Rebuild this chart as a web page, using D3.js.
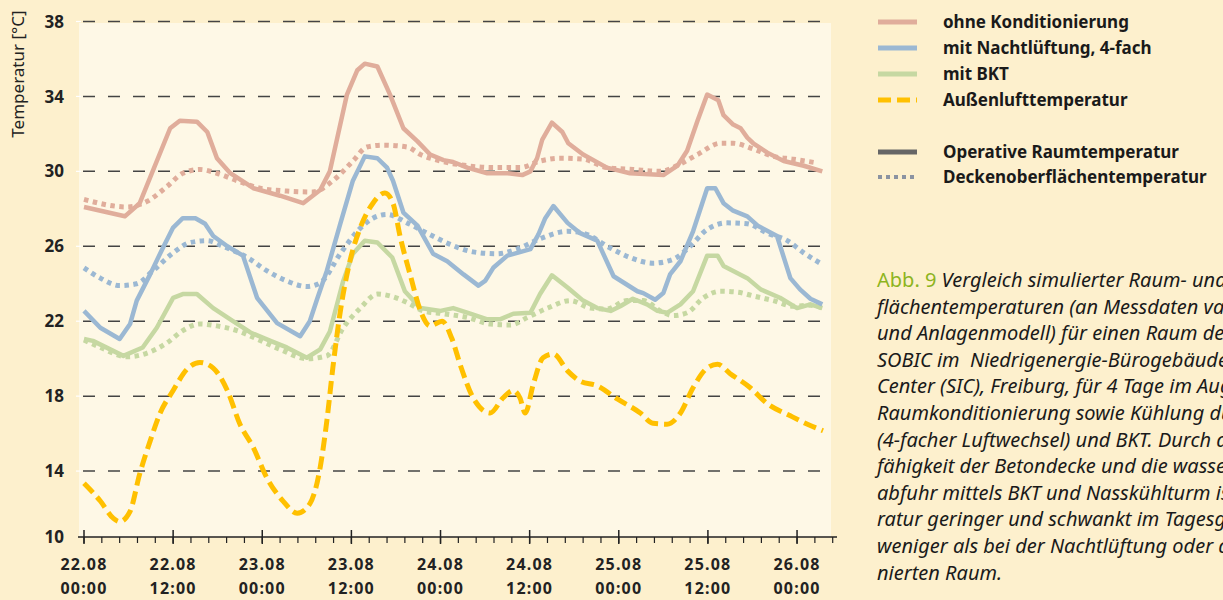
<!DOCTYPE html>
<html>
<head>
<meta charset="utf-8">
<script src="https://cdn.jsdelivr.net/npm/d3@7"></script>
<style>
  html, body { margin: 0; padding: 0; background: #fdf0cd; overflow: hidden; }
  svg { display: block; font-family: "Noto Sans", sans-serif; }
</style>
</head>
<body>
<script>
// hours since 22.08 00:00, temperature in °C
const ohneOp = [[0,28.1],[5.5,27.6],[7.5,28.3],[11.6,32.3],[12.9,32.7],[15.2,32.65],[16.6,32.1],[17.9,30.7],[19.7,29.9],[22.8,29.1],[26.4,28.7],[29.5,28.3],[31.8,29.0],[33.1,30.0],[35.4,34.1],[36.8,35.4],[37.8,35.75],[39.5,35.6],[41.2,34.1],[43.0,32.3],[44.9,31.6],[46.6,30.9],[48.4,30.6],[49.7,30.5],[51.6,30.2],[54.3,29.9],[57.0,29.9],[59.0,29.8],[60.1,30.0],[61.0,30.7],[61.7,31.7],[63.0,32.6],[64.4,32.1],[65.2,31.5],[67.2,30.9],[70.4,30.2],[73.5,29.9],[78.0,29.8],[79.9,30.3],[81.2,31.1],[82.6,32.7],[83.9,34.1],[85.4,33.8],[86.1,33.0],[87.4,32.5],[88.4,32.3],[89.3,31.8],[90.1,31.5],[92.0,31.0],[94.2,30.55],[96.9,30.3],[99.4,30.0]];
const ohneDecke = [[0,28.5],[5.8,28.1],[8.5,28.4],[11.2,29.2],[13.3,29.9],[15.6,30.1],[17.9,29.9],[20.6,29.5],[23.7,29.1],[27.3,28.95],[30.8,28.9],[33.5,29.5],[36.2,30.55],[38.1,31.3],[40.3,31.4],[43.5,31.3],[45.3,30.9],[48.0,30.55],[51.6,30.3],[55.1,30.2],[58.7,30.2],[61.4,30.55],[64.1,30.7],[67.2,30.65],[70.4,30.2],[73.9,30.1],[77.6,30.0],[80.3,30.4],[82.6,30.9],[85.7,31.5],[87.4,31.5],[90.1,31.2],[92.8,30.8],[95.5,30.65],[98.7,30.45]];
const nachtOp = [[0,22.55],[2.2,21.65],[4.8,21.05],[6.2,21.85],[7.1,23.1],[8.9,24.5],[10.6,25.9],[12.0,27.0],[13.3,27.5],[15.0,27.5],[16.3,27.2],[17.4,26.55],[19.3,26.0],[21.4,25.5],[23.3,23.25],[26.0,21.9],[29.1,21.2],[30.4,22.0],[31.4,23.2],[32.7,24.7],[34.5,27.2],[36.2,29.5],[37.8,30.8],[39.5,30.7],[40.8,30.2],[41.6,29.5],[43.0,27.8],[44.9,27.1],[47.0,25.6],[48.9,25.2],[51.1,24.5],[53.1,23.9],[54.0,24.15],[55.1,24.85],[57.0,25.5],[60.1,25.85],[61.2,26.65],[62.1,27.5],[63.2,28.15],[65.1,27.25],[66.8,26.7],[69.1,26.3],[71.3,24.4],[74.5,23.6],[75.3,23.5],[76.9,23.15],[78.0,23.5],[78.9,24.5],[80.3,25.2],[82.0,26.8],[83.9,29.1],[85.0,29.1],[86.1,28.3],[87.4,27.9],[89.3,27.6],[90.7,27.1],[93.3,26.55],[95.1,24.3],[96.4,23.7],[97.8,23.2],[99.4,22.9]];
const nachtDecke = [[0,24.85],[2.2,24.3],[4.8,23.9],[7.1,24.0],[9.3,24.7],[12.0,25.65],[14.3,26.2],[16.6,26.3],[18.7,26.0],[22.0,25.4],[24.6,24.7],[27.3,24.15],[30.0,23.85],[31.8,24.05],[34.5,25.6],[36.8,26.8],[38.9,27.5],[40.8,27.7],[43.5,27.25],[46.2,26.7],[49.3,26.1],[52.4,25.7],[55.6,25.6],[58.3,25.85],[61.4,26.4],[65.1,26.8],[67.2,26.7],[70.9,25.9],[73.5,25.4],[76.6,25.1],[79.3,25.3],[81.6,26.0],[83.9,26.9],[86.6,27.25],[89.3,27.2],[92.0,26.7],[94.7,26.3],[96.9,25.65],[99.1,25.1]];
const bktOp = [[0,21.05],[1.2,20.95],[5.3,20.15],[7.9,20.6],[9.8,21.65],[12.0,23.25],[13.3,23.45],[15.2,23.45],[17.4,22.7],[19.7,22.1],[22.4,21.4],[25.1,20.95],[27.3,20.6],[30.0,20.05],[31.8,20.5],[33.1,21.45],[34.9,24.15],[36.2,25.6],[37.8,26.3],[39.5,26.2],[41.5,25.4],[43.2,23.6],[45.3,22.7],[48.0,22.55],[49.7,22.7],[52.0,22.4],[54.3,22.1],[56.0,22.1],[57.8,22.4],[60.1,22.45],[61.4,23.45],[63.0,24.45],[65.1,23.8],[67.2,23.1],[69.1,22.7],[70.9,22.55],[72.2,22.8],[73.9,23.2],[75.8,22.9],[77.2,22.55],[78.5,22.45],[80.3,22.9],[82.0,23.6],[83.9,25.5],[85.3,25.5],[86.1,24.95],[89.3,24.3],[91.1,23.7],[93.7,23.25],[96.0,22.7],[97.8,22.9],[99.4,22.7]];
const bktDecke = [[0,21.0],[2.2,20.6],[5.8,20.1],[8.5,20.3],[11.2,20.85],[13.3,21.5],[15.6,21.85],[17.9,21.75],[20.6,21.5],[23.3,21.05],[26.4,20.5],[30.0,20.0],[32.7,20.15],[34.9,21.65],[37.2,22.7],[39.5,23.45],[41.2,23.35],[43.5,23.0],[45.7,22.55],[48.4,22.4],[51.6,22.2],[54.7,21.85],[57.4,21.8],[59.7,22.2],[62.4,22.7],[65.5,23.1],[68.2,22.7],[70.4,22.65],[73.1,23.1],[75.3,23.1],[77.6,22.55],[79.3,22.3],[81.2,22.45],[83.4,23.25],[85.7,23.6],[88.0,23.55],[90.1,23.35],[92.8,23.1],[95.5,22.8],[97.8,22.85],[99.4,22.7]];
const aussen = [[0,13.35],[2.2,12.4],[3.9,11.5],[4.8,11.3],[6.2,11.85],[7.5,13.85],[8.9,15.6],[10.2,17.05],[12.0,18.3],[13.9,19.45],[15.6,19.8],[17.4,19.5],[19.3,18.3],[21.0,16.5],[22.8,15.25],[24.6,13.65],[26.8,12.4],[28.7,11.75],[30.4,12.25],[31.8,14.2],[32.7,16.7],[33.5,19.5],[34.5,22.5],[35.8,25.2],[37.2,27.0],[38.9,28.3],[40.5,28.85],[41.6,28.3],[42.6,26.45],[43.9,24.5],[45.3,22.55],[46.6,21.75],[48.2,22.0],[49.5,21.1],[50.8,19.5],[52.4,17.9],[54.7,17.1],[56.4,17.9],[57.8,18.3],[58.7,17.9],[59.4,17.1],[60.5,18.65],[61.8,20.05],[63.2,20.25],[65.1,19.35],[66.8,18.8],[69.1,18.55],[71.8,17.85],[74.9,17.1],[76.6,16.55],[78.5,16.5],[80.3,17.1],[82.0,18.45],[83.9,19.5],[85.3,19.7],[87.0,19.2],[89.7,18.45],[92.0,17.6],[95.1,16.95],[97.4,16.5],[99.5,16.15]];

const yTicks = [10, 14, 18, 22, 26, 30, 34, 38];
const xMajorHours = [0, 12, 24, 36, 48, 60, 72, 84, 96];
const xLabels = [["22.08","00:00"],["22.08","12:00"],["23.08","00:00"],["23.08","12:00"],["24.08","00:00"],["24.08","12:00"],["25.08","00:00"],["25.08","12:00"],["26.08","00:00"]];
const legendLabels = ["ohne Konditionierung", "mit Nachtlüftung, 4-fach", "mit BKT", "Außenlufttemperatur"];
const styleLabels = ["Operative Raumtemperatur", "Deckenoberflächentemperatur"];
const captionLines = [
  "Vergleich simulierter Raum- und Deckenober-",
  "flächentemperaturen (an Messdaten validiertes Gebäude-",
  "und Anlagenmodell) für einen Raum des Projekts",
  "SOBIC im  Niedrigenergie-Bürogebäude Solar Info",
  "Center (SIC), Freiburg, für 4 Tage im August ohne",
  "Raumkonditionierung sowie Kühlung durch Nachtlüftung",
  "(4-facher Luftwechsel) und BKT. Durch die Speicher-",
  "fähigkeit der Betondecke und die wasserseitige Wärme-",
  "abfuhr mittels BKT und Nasskühlturm ist die Raumtempe-",
  "ratur geringer und schwankt im Tagesgang deutlich",
  "weniger als bei der Nachtlüftung oder dem unkonditio-",
  "nierten Raum."
];

const width = 1223, height = 600;
const pink = "#e0ad9b", blue = "#9bb8d3", green = "#c6d8a2", yellow = "#ffc000";
const axisY = 537;

const x = d3.scaleLinear().domain([0, 100.8]).range([84, 832.7]);
const y = d3.scaleLinear().domain([10, 38]).range([546, 21.5]);

const svg = d3.select("body").append("svg")
  .attr("width", width)
  .attr("height", height)
  .attr("viewBox", [0, 0, width, height]);

svg.append("rect").attr("width", width).attr("height", height).attr("fill", "#fdf0cd");
svg.append("rect")
  .attr("x", 79).attr("y", 23)
  .attr("width", 752).attr("height", axisY - 23)
  .attr("fill", "#fef8e6");

const grid = svg.append("g");
grid.selectAll("line.g")
  .data(yTicks.slice(1))
  .join("line")
  .attr("class", "g")
  .attr("x1", 83).attr("x2", 831)
  .attr("y1", (d) => y(d)).attr("y2", (d) => y(d))
  .attr("stroke", "#444")
  .attr("stroke-width", 1.5)
  .attr("stroke-dasharray", "12,13");
grid.selectAll("line.w")
  .data(yTicks.slice(1))
  .join("line")
  .attr("class", "w")
  .attr("x1", 76).attr("x2", 81)
  .attr("y1", (d) => y(d)).attr("y2", (d) => y(d))
  .attr("stroke", "#fff")
  .attr("stroke-width", 1.2);

svg.append("g")
  .attr("font-size", 17)
  .attr("font-weight", "bold")
  .attr("fill", "#222")
  .attr("text-anchor", "end")
  .selectAll("text")
  .data(yTicks)
  .join("text")
  .attr("x", 64)
  .attr("y", (d) => Math.min(y(d), axisY))
  .attr("dy", "0.36em")
  .text((d) => d);

svg.append("text")
  .attr("transform", "translate(24,74) rotate(-90)")
  .attr("text-anchor", "middle")
  .attr("font-size", 17)
  .attr("fill", "#222")
  .text("Temperatur [°C]");

const line = d3.line().x((d) => x(d[0])).y((d) => y(d[1]));
const smooth = d3.line().x((d) => x(d[0])).y((d) => y(d[1])).curve(d3.curveMonotoneX);

const series = [
  { data: bktDecke, color: green, dotted: true },
  { data: nachtDecke, color: blue, dotted: true },
  { data: ohneDecke, color: pink, dotted: true },
  { data: bktOp, color: green, dotted: false },
  { data: nachtOp, color: blue, dotted: false },
  { data: ohneOp, color: pink, dotted: false }
];

svg.append("g")
  .attr("fill", "none")
  .selectAll("path")
  .data(series)
  .join("path")
  .attr("d", (d) => (d.dotted ? smooth(d.data) : line(d.data)))
  .attr("stroke", (d) => d.color)
  .attr("stroke-width", (d) => (d.dotted ? 5 : 4.5))
  .attr("stroke-dasharray", (d) => (d.dotted ? "4.5,4.5" : null))
  .attr("stroke-linejoin", "round");

svg.append("path")
  .attr("d", smooth(aussen))
  .attr("fill", "none")
  .attr("stroke", yellow)
  .attr("stroke-width", 5)
  .attr("stroke-dasharray", "13,6");

const axis = svg.append("g").attr("stroke", "#222");
axis.append("line")
  .attr("x1", 78).attr("x2", 837)
  .attr("y1", axisY).attr("y2", axisY)
  .attr("stroke-width", 1.5);
axis.selectAll("line.minor")
  .data(d3.range(0, 101, 2.4))
  .join("line")
  .attr("class", "minor")
  .attr("x1", (d) => x(d)).attr("x2", (d) => x(d))
  .attr("y1", axisY).attr("y2", axisY + 6)
  .attr("stroke-width", 1.2);
axis.selectAll("line.major")
  .data(xMajorHours)
  .join("line")
  .attr("class", "major")
  .attr("x1", (d) => x(d)).attr("x2", (d) => x(d))
  .attr("y1", axisY - 7).attr("y2", axisY + 7)
  .attr("stroke-width", 1.5);

const xl = svg.append("g")
  .attr("font-size", 16)
  .attr("font-weight", "bold")
  .attr("fill", "#222")
  .attr("text-anchor", "middle")
  .attr("letter-spacing", 1.2)
  .selectAll("text")
  .data(xMajorHours)
  .join("text")
  .attr("x", (d) => x(d))
  .attr("y", 570);
xl.append("tspan").text((d, i) => xLabels[i][0]);
xl.append("tspan")
  .attr("x", (d) => x(d))
  .attr("dy", 24)
  .text((d, i) => xLabels[i][1]);

const legend = svg.append("g").attr("font-size", 17).attr("font-weight", "bold").attr("fill", "#1a1a1a");
const legendRows = [
  { label: legendLabels[0], y: 22, color: pink, dash: null, w: 5 },
  { label: legendLabels[1], y: 48, color: blue, dash: null, w: 5 },
  { label: legendLabels[2], y: 74, color: green, dash: null, w: 5 },
  { label: legendLabels[3], y: 100, color: yellow, dash: "13,6", w: 5 },
  { label: styleLabels[0], y: 152, color: "#666", dash: null, w: 5 },
  { label: styleLabels[1], y: 177, color: "#8b93a1", dash: "4,4", w: 4 }
];
legend.selectAll("line")
  .data(legendRows)
  .join("line")
  .attr("x1", 878).attr("x2", 917)
  .attr("y1", (d) => d.y).attr("y2", (d) => d.y)
  .attr("stroke", (d) => d.color)
  .attr("stroke-width", (d) => d.w)
  .attr("stroke-dasharray", (d) => d.dash);
legend.selectAll("text")
  .data(legendRows)
  .join("text")
  .attr("x", 943)
  .attr("y", (d) => d.y)
  .attr("dy", "0.35em")
  .text((d) => d.label);

const cap = svg.append("text")
  .attr("x", 877)
  .attr("y", 287)
  .attr("font-size", 20)
  .attr("fill", "#1a1a1a")
  .style("white-space", "pre");
cap.append("tspan").attr("fill", "#8db41e").text("Abb. 9 ");
captionLines.forEach((t, i) => {
  cap.append("tspan")
    .attr("x", i === 0 ? null : 877)
    .attr("dy", i === 0 ? 0 : 26.6)
    .attr("font-style", "italic")
    .text(t);
});
</script>
</body>
</html>
